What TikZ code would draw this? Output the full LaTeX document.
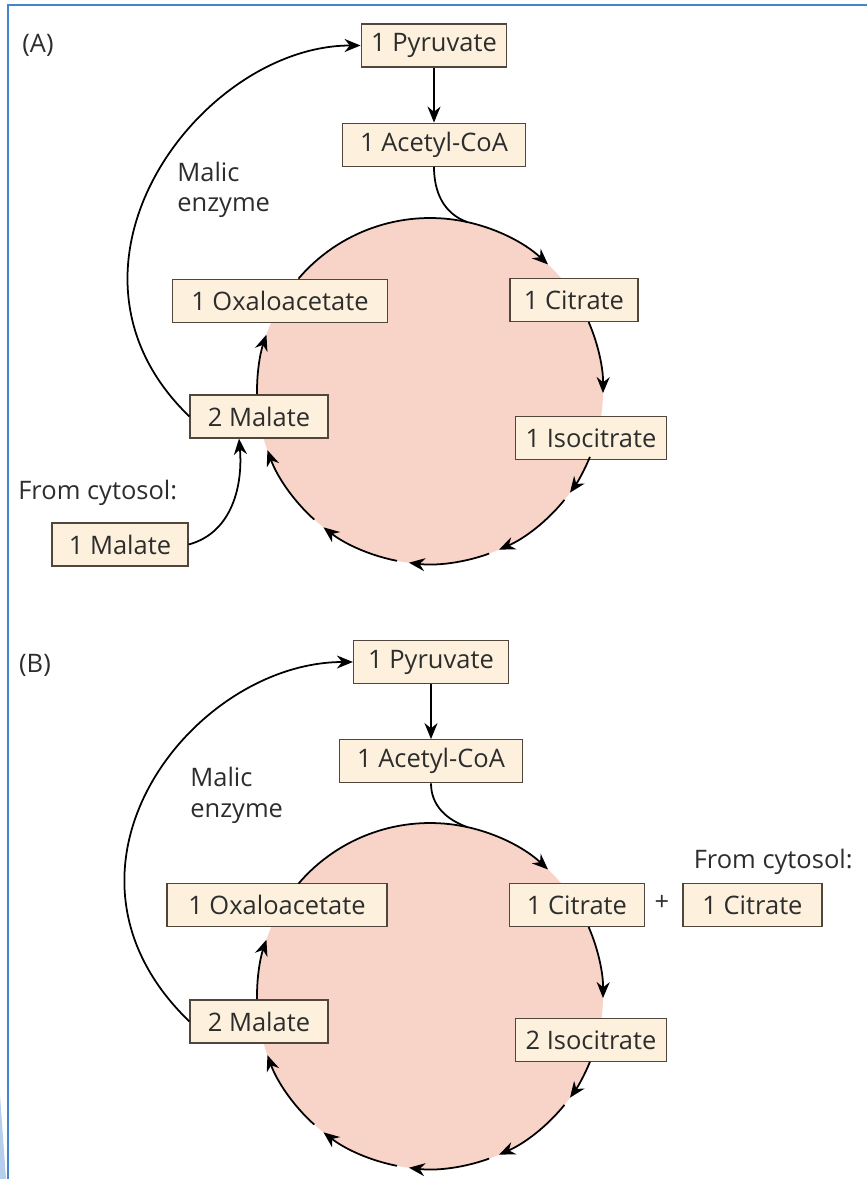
\documentclass[tikz,border=0pt]{standalone}
\usepackage{fontspec}
\setmainfont{Open Sans}
\usetikzlibrary{positioning, arrows.meta}

\definecolor{boxfill}{RGB}{253,241,221}
\definecolor{boxline}{RGB}{80,70,60}
\definecolor{textgray}{RGB}{45,45,45}
\definecolor{poolfill}{RGB}{248,211,200}
\definecolor{frameblue}{RGB}{66,133,205}

\begin{document}
\begin{tikzpicture}[
    x=0.02cm, y=0.02cm,
    font=\fontsize{14.5}{17.5}\selectfont,
    text=textgray,
    metab/.style={draw=boxline, fill=boxfill, line width=0.7pt, inner xsep=0.2cm, minimum height=0.86cm},
    note/.style={align=left, inner sep=0pt},
    pool/.style={fill=poolfill},
    arrow/.style={-{Stealth[length=3.2mm, width=2.6mm]}, line width=1pt},
    link/.style={line width=1pt}
]
    \useasboundingbox (0,0) rectangle (867,-1179);

    % FRAME
    \draw[frameblue, line width=1.2pt] (8,-1179) -- (8,-5) -- (867,-5);
    \fill[frameblue!40] (0,-1095) -- (6,-1179) -- (0,-1179) -- cycle;

    % PANEL A
    \coordinate (cA) at (430,-391);
    \fill[pool] (cA) circle[radius=173];

    \node (labA) at (38,-45) {(A)};
    \node[metab, minimum width=2.9cm] (pyrA) at (434,-45.5) {1 Pyruvate};
    \node[metab, minimum width=3.66cm, below=1.1cm of pyrA] (acA) {1 Acetyl-CoA};
    \node[note, anchor=west] (enzA) at (177,-190) {Malic\\enzyme};
    \node[metab, minimum width=4.3cm] (oxaA) at (280,-301) {1 Oxaloacetate};
    \node[metab, minimum width=2.56cm] (citA) at (574,-300) {1 Citrate};
    \node[metab, minimum width=2.76cm] (malA) at (259,-416.5) {2 Malate};
    \node[metab] (isoA) at (591,-438) {1 Isocitrate};
    \node[note, anchor=west] (fromA) at (18,-493) {From cytosol:};
    \node[metab, minimum width=2.72cm] (malinA) at (120,-544.5) {1 Malate};

    \draw[arrow] (pyrA) -- (acA);
    \draw[link] (acA.south) to[out=-90, in=160] ([shift={(77.6:173)}]cA);
    \draw[arrow] ([shift={(139.5:173)}]cA) arc[start angle=139.5, end angle=47, radius=173];
    \foreach \a/\b in {23.5/-0.7, -22.4/-36, -39/-66.5, -70/-97, -101/-128, -132/-160, 181/161}
        \draw[arrow] ([shift={(\a:173)}]cA) arc[start angle=\a, end angle=\b, radius=173];
    \draw[arrow] (malA.west) to[out=136, in=180, out distance=4.3cm, in distance=3.2cm] (pyrA.west);
    \draw[arrow] (malinA.east) to[out=15, in=-85] ([xshift=-0.4cm]malA.south);

    % PANEL B
    \coordinate (cB) at (430,-996);
    \fill[pool] (cB) circle[radius=173];

    \node (labB) at (35,-665) {(B)};
    \node[metab, minimum width=3.1cm] (pyrB) at (431,-662) {1 Pyruvate};
    \node[metab, minimum width=3.66cm, below=1.1cm of pyrB] (acB) {1 Acetyl-CoA};
    \node[note, anchor=west] (enzB) at (190,-795) {Malic\\enzyme};
    \node[metab, minimum width=4.4cm] (oxaB) at (277,-905) {1 Oxaloacetate};
    \node[metab, minimum width=2.7cm] (citB) at (577,-905) {1 Citrate};
    \node (plusB) at (662,-903) {+};
    \node[metab, minimum width=2.78cm] (citinB) at (752.5,-905) {1 Citrate};
    \node[note, anchor=east] (fromB) at (853,-862) {From cytosol:};
    \node[metab, minimum width=2.76cm] (malB) at (259,-1021.5) {2 Malate};
    \node[metab] (isoB) at (591,-1040) {2 Isocitrate};

    \draw[arrow] (pyrB) -- (acB);
    \draw[link] (acB.south) to[out=-90, in=160] ([shift={(77.6:173)}]cB);
    \draw[arrow] ([shift={(139.5:173)}]cB) arc[start angle=139.5, end angle=47, radius=173];
    \foreach \a/\b in {23.5/-0.7, -22.4/-36, -39/-66.5, -70/-97, -101/-128, -132/-160, 181/161}
        \draw[arrow] ([shift={(\a:173)}]cB) arc[start angle=\a, end angle=\b, radius=173];
    \draw[arrow] (malB.west) to[out=136, in=180, out distance=4.4cm, in distance=3.2cm] (pyrB.west);

\end{tikzpicture}
\end{document}
